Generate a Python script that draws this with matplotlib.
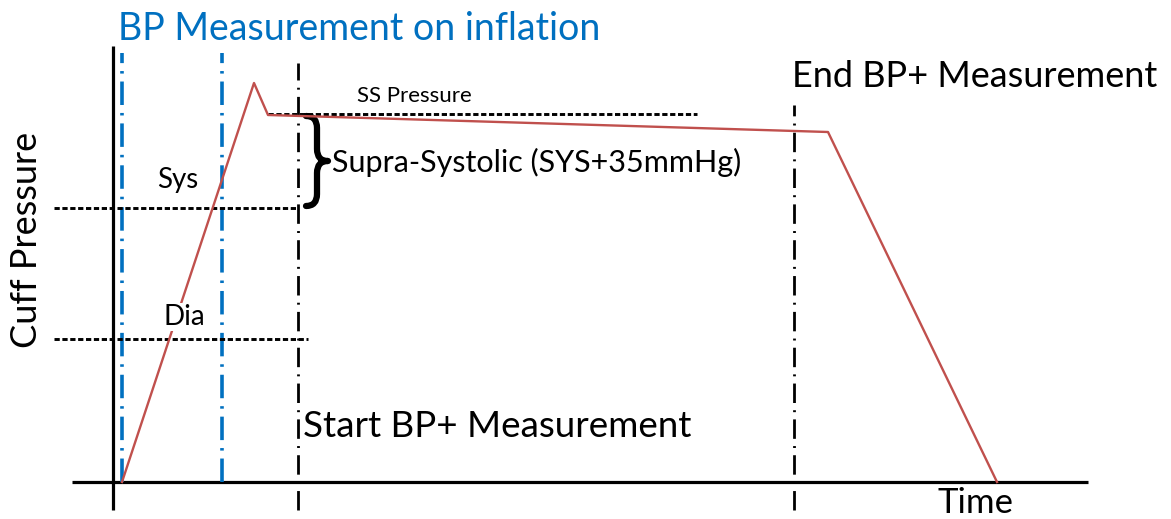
import matplotlib
matplotlib.use("Agg")
import matplotlib.pyplot as plt
from matplotlib.path import Path
from matplotlib.patches import PathPatch

plt.rcParams['font.family'] = ['Lato', 'DejaVu Sans']

# cuff pressure trace (time, pressure) in arbitrary units
time = [9, 141, 155, 715, 884]
pressure = [0, 399, 367, 350, 0]

# reference levels
sys_level = 274
dia_level = 143
ss_level = 368

# event markers on the time axis
bp_inflation_start = 9
bp_inflation_end = 109
bp_plus_start = 185
bp_plus_end = 681

red = '#C0504D'
blue = '#0070C0'

fig = plt.figure(figsize=(11.71, 5.19), dpi=100)
ax = fig.add_axes([0, 0, 1, 1])
ax.set_xlim(-113, 1058)
ax.set_ylim(-37, 482)
ax.axis('off')

# axes (plain lines)
ax.plot([0, 0], [-28, 436], color='black', lw=2.3, solid_capstyle='butt')
ax.plot([-41, 975], [0, 0], color='black', lw=2.3, solid_capstyle='butt')

# blue dash-dot: BP measurement on inflation window
for t in [bp_inflation_start, bp_inflation_end]:
    ax.plot([t, t], [0, 429], color=blue, lw=2.6, linestyle=(0, (6.5, 2.2, 0.7, 2.2)))

# black dash-dot: BP+ start / end
dashdot = (0, (7, 2.6, 0.7, 2.6))
ax.plot([bp_plus_start, bp_plus_start], [-28, 419], color='black', lw=2.0, linestyle=dashdot)
ax.plot([bp_plus_end, bp_plus_end], [-28, 377], color='black', lw=2.0, linestyle=dashdot)

# dotted reference levels
dots = (0, (1.8, 0.9))
ax.plot([-59, bp_plus_start], [sys_level, sys_level], color='black', lw=2.1, linestyle=dots)
ax.plot([-59, bp_plus_start + 10], [dia_level, dia_level], color='black', lw=2.1, linestyle=dots)
ax.plot([time[2], 584], [ss_level, ss_level], color='black', lw=2.1, linestyle=dots)

# pressure trace
ax.plot(time, pressure, color=red, lw=1.7)

# curly brace between SYS and SS pressure
def brace(ax, x0, y_lo, y_hi, w, r=12):
    ym = (y_lo + y_hi) / 2
    xm = x0 + w / 2
    verts = [(x0, y_hi), (xm, y_hi), (xm, y_hi - r),
             (xm, ym + r),
             (xm, ym), (x0 + w, ym),
             (xm, ym), (xm, ym - r),
             (xm, y_lo + r),
             (xm, y_lo), (x0, y_lo)]
    codes = [Path.MOVETO, Path.CURVE3, Path.CURVE3,
             Path.LINETO,
             Path.CURVE3, Path.CURVE3,
             Path.CURVE3, Path.CURVE3,
             Path.LINETO,
             Path.CURVE3, Path.CURVE3]
    ax.add_patch(PathPatch(Path(verts, codes), fill=False, lw=4.5,
                           edgecolor='black', capstyle='round', joinstyle='round'))

brace(ax, 193, sys_level + 2, ss_level - 2, 22)

# labels
ax.text(5, 442, 'BP Measurement on inflation', color=blue, fontsize=27, va='baseline')
ax.text(679, 395, 'End BP+ Measurement', fontsize=26, va='baseline')
ax.text(190, 45, 'Start BP+ Measurement', fontsize=26.5, va='baseline')
ax.text(219, 310, 'Supra-Systolic (SYS+35mmHg)', fontsize=22, va='baseline')
ax.text(244, 380, 'SS Pressure', fontsize=16, va='baseline')
ax.text(44, 294, 'Sys', fontsize=20, va='baseline')
ax.text(50, 157, 'Dia', fontsize=20, va='baseline',
        bbox=dict(facecolor='white', edgecolor='none', pad=1))
ax.text(825, -31, 'Time', fontsize=25, va='baseline')
ax.text(-86, 242, 'Cuff Pressure', fontsize=26, rotation=90, ha='center', va='center')

fig.savefig('out.png', dpi=100)
